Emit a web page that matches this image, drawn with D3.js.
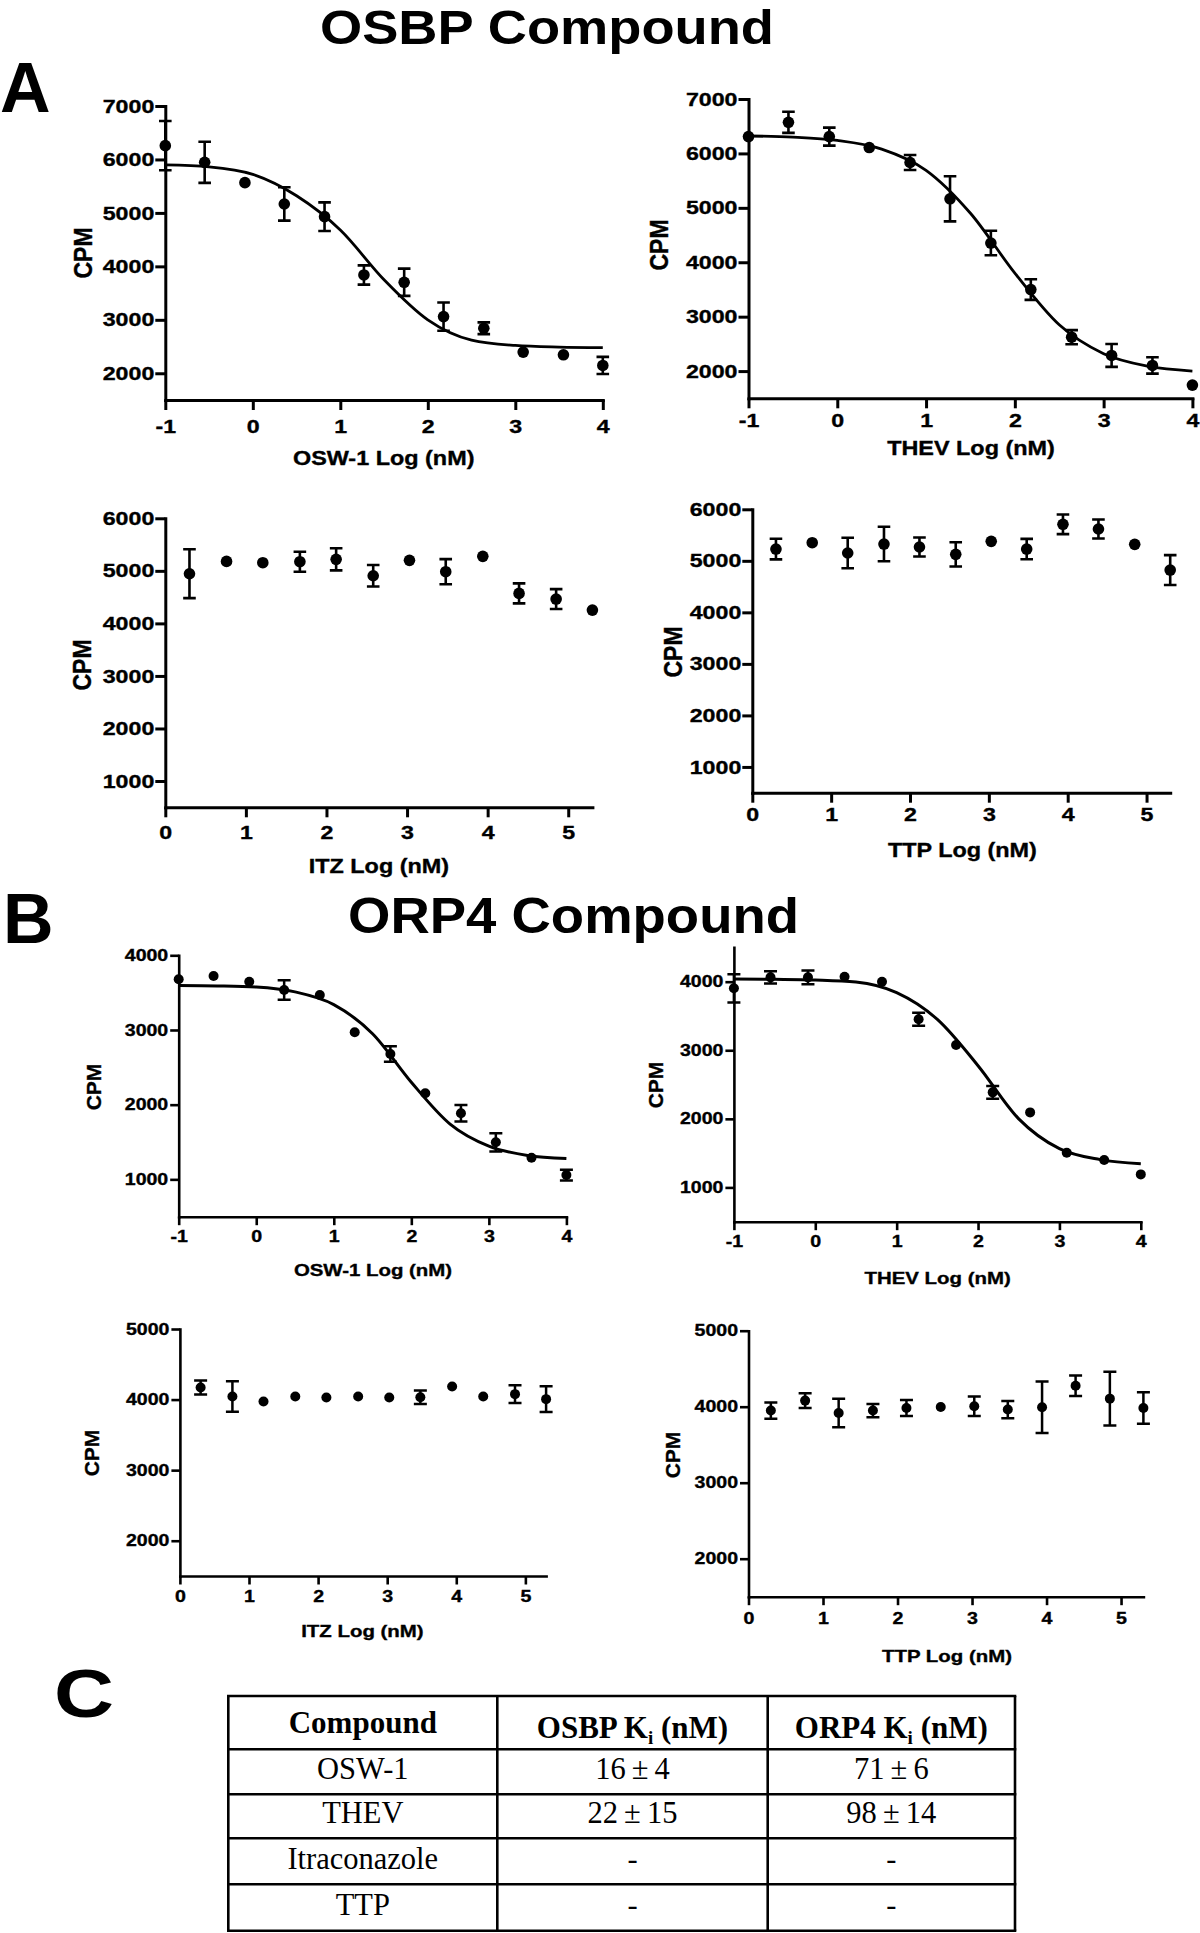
<!DOCTYPE html>
<html><head><meta charset="utf-8">
<script src="https://cdn.jsdelivr.net/npm/d3@7"></script>
<style>body{margin:0;background:#fff} svg{display:block}</style>
</head><body>
<svg id="fig" width="1200" height="1933"></svg>
<script>
// ---------------- DATA ----------------
const doseLogA = [-1, -0.55, -0.09, 0.36, 0.82, 1.27, 1.73, 2.18, 2.64, 3.09, 3.55, 4.0];
const doseLogB = [0.30, 0.76, 1.21, 1.67, 2.12, 2.58, 3.03, 3.48, 3.94, 4.39, 4.85, 5.30];
const fitX = [-1, -0.5, 0, 0.5, 1, 1.5, 2, 2.5, 3, 3.5, 4];

const osbpOsw1Mean = [6258, 5946, 5566, 5167, 4930, 3839, 3702, 3060, 2842, 2396, 2346, 2146];
const osbpOsw1Sem  = [460, 385, 0, 312, 268, 180, 255, 265, 110, 0, 0, 160];
const osbpOsw1Fit  = [5897, 5860, 5720, 5320, 4680, 3750, 3000, 2620, 2520, 2490, 2480];

const osbpThevMean = [6309, 6572, 6309, 6108, 5833, 5166, 4353, 3498, 2623, 2287, 2104, 1743];
const osbpThevSem  = [0, 195, 165, 0, 137, 415, 225, 190, 130, 210, 150, 0];
const osbpThevFit  = [6320, 6300, 6240, 6080, 5690, 4900, 3800, 2850, 2320, 2090, 2000];

const osbpItzMean = [4945, 5180, 5155, 5174, 5219, 4907, 5200, 4984, 5276, 4571, 4463, 4253];
const osbpItzSem  = [465, 0, 0, 190, 210, 205, 0, 240, 0, 190, 190, 0];

const osbpTtpMean = [5229, 5352, 5152, 5326, 5268, 5126, 5378, 5229, 5709, 5618, 5320, 4821];
const osbpTtpSem  = [200, 0, 295, 335, 185, 235, 0, 198, 190, 185, 0, 290];

const orp4Osw1Mean = [3679, 3723, 3647, 3536, 3469, 2969, 2679, 2152, 1884, 1496, 1290, 1058];
const orp4Osw1Sem  = [0, 0, 0, 130, 0, 0, 103, 0, 110, 123, 0, 72];
const orp4Osw1Fit  = [3595, 3590, 3575, 3510, 3340, 2950, 2300, 1740, 1445, 1320, 1280];

const orp4ThevMean = [3903, 4063, 4063, 4073, 4000, 3451, 3076, 2386, 2094, 1506, 1399, 1190];
const orp4ThevSem  = [205, 88, 100, 0, 0, 95, 0, 93, 0, 0, 0, 0];
const orp4ThevFit  = [4040, 4035, 4025, 3995, 3840, 3450, 2775, 2000, 1565, 1405, 1345];

const orp4ItzMean = [4171, 4044, 3973, 4044, 4030, 4044, 4030, 4034, 4185, 4044, 4077, 4006];
const orp4ItzSem  = [100, 215, 0, 0, 0, 0, 0, 95, 0, 0, 127, 182];

const orp4TtpMean = [3949, 4080, 3918, 3949, 3984, 3997, 4006, 3962, 3993, 4276, 4106, 3984];
const orp4TtpSem  = [107, 98, 187, 88, 105, 0, 127, 113, 338, 135, 355, 207];

const ticksLogA = [-1, 0, 1, 2, 3, 4];
const ticksLogB = [0, 1, 2, 3, 4, 5];
const ticksCpmA12 = [2000, 3000, 4000, 5000, 6000, 7000];
const ticksCpmA34 = [1000, 2000, 3000, 4000, 5000, 6000];
const ticksCpmB12 = [1000, 2000, 3000, 4000];
const ticksCpmB34 = [2000, 3000, 4000, 5000];

const xLabels = ["OSW-1 Log (nM)", "THEV Log (nM)", "ITZ Log (nM)", "TTP Log (nM)"];
const yLabel = "CPM";
const sectionTitles = ["OSBP Compound", "ORP4 Compound"];
const panelLetters = ["A", "B", "C"];

const tableHeader = [["Compound", "", ""], ["OSBP K", "i", " (nM)"], ["ORP4 K", "i", " (nM)"]];
const tableCompounds = ["OSW-1", "THEV", "Itraconazole", "TTP"];
const tableOsbpKi = ["16 ± 4", "22 ± 15", "-", "-"];
const tableOrp4Ki = ["71 ± 6", "98 ± 14", "-", "-"];

// ---------------- LAYOUT ----------------
const SANS = "'Liberation Sans', Arial, Helvetica, sans-serif";
const SERIF = "'Liberation Serif', 'Times New Roman', Times, serif";
const svg = d3.select("#fig");
svg.append("rect").attr("width", 1200).attr("height", 1933).attr("fill", "#fff");

const A = {tick: 10, axisW: 3, tickFont: 19, labFont: 20, labK: 1.17, cpmFont: 23, cpmK: 1.1, r: 5.8, cap: 6.3, errW: 2.6, lineW: 2.8};
const B = {tick: 8.5, axisW: 2.6, tickFont: 16, labFont: 17, labK: 1.2, cpmFont: 21, cpmK: 1.0, r: 5.0, cap: 6.5, errW: 2.5, lineW: 3};

const panels = [
  {st: A, xDomain: [-1, 4], xRange: [165.3, 602.8], yDomain: [1500, 7000], yRange: [400, 106], xPad: 10, yPad: 1,
   xl: [383.7, 465], yl: [83, 253], x: doseLogA, mean: osbpOsw1Mean, sem: osbpOsw1Sem, fit: osbpOsw1Fit,
   xTicks: ticksLogA, yTicks: ticksCpmA12, label: xLabels[0]},
  {st: A, xDomain: [-1, 4], xRange: [748.5, 1192.4], yDomain: [1500, 7000], yRange: [398.3, 99], xPad: 5, yPad: 1,
   xl: [971, 455], yl: [659, 245], x: doseLogA, mean: osbpThevMean, sem: osbpThevSem, fit: osbpThevFit,
   xTicks: ticksLogA, yTicks: ticksCpmA12, label: xLabels[1]},
  {st: A, xDomain: [0, 5.3], xRange: [165.3, 592.4], yDomain: [500, 6000], yRange: [807.3, 518.3], xPad: 8, yPad: 1,
   xl: [378.9, 873], yl: [82.3, 665], x: doseLogB, mean: osbpItzMean, sem: osbpItzSem, fit: null,
   xTicks: ticksLogB, yTicks: ticksCpmA34, label: xLabels[2]},
  {st: A, xDomain: [0, 5.3], xRange: [752.3, 1170.2], yDomain: [500, 6000], yRange: [792.7, 509.3], xPad: 5, yPad: 1,
   xl: [962.4, 857], yl: [672.7, 652], x: doseLogB, mean: osbpTtpMean, sem: osbpTtpSem, fit: null,
   xTicks: ticksLogB, yTicks: ticksCpmA34, label: xLabels[3]},
  {st: B, xDomain: [-1, 4], xRange: [178.7, 566.4], yDomain: [500, 4000], yRange: [1216.7, 955.3], xPad: 5, yPad: 2,
   xl: [373, 1276], yl: [93.8, 1087], x: doseLogA, mean: orp4Osw1Mean, sem: orp4Osw1Sem, fit: orp4Osw1Fit,
   xTicks: ticksLogA, yTicks: ticksCpmB12, label: xLabels[0]},
  {st: B, xDomain: [-1, 4], xRange: [733.9, 1140.8], yDomain: [500, 4500], yRange: [1221.7, 947.4], xPad: 5, yPad: 2,
   xl: [937.6, 1284], yl: [655.5, 1085], x: doseLogA, mean: orp4ThevMean, sem: orp4ThevSem, fit: orp4ThevFit,
   xTicks: ticksLogA, yTicks: ticksCpmB12, label: xLabels[1]},
  {st: B, xDomain: [0, 5.3], xRange: [179.9, 546.1], yDomain: [1500, 5000], yRange: [1576, 1329], xPad: 6, yPad: 2,
   xl: [362.4, 1637], yl: [91.8, 1453], x: doseLogB, mean: orp4ItzMean, sem: orp4ItzSem, fit: null,
   xTicks: ticksLogB, yTicks: ticksCpmB34, label: xLabels[2]},
  {st: B, xDomain: [0, 5.3], xRange: [748.5, 1143.4], yDomain: [1500, 5000], yRange: [1596.7, 1330.7], xPad: 7, yPad: 2,
   xl: [947, 1662], yl: [672.7, 1455], x: doseLogB, mean: orp4TtpMean, sem: orp4TtpSem, fit: null,
   xTicks: ticksLogB, yTicks: ticksCpmB34, label: xLabels[3]}
];

function drawPanel(p) {
  const s = p.st;
  const x = d3.scaleLinear().domain(p.xDomain).range(p.xRange);
  const y = d3.scaleLinear().domain(p.yDomain).range(p.yRange);
  const g = svg.append("g");
  const fmt = d => String(d);

  const gx = g.append("g").attr("transform", `translate(0,${p.yRange[0]})`)
    .call(d3.axisBottom(x).tickValues(p.xTicks).tickSize(s.tick).tickSizeOuter(0).tickPadding(p.xPad).tickFormat(fmt));
  const gy = g.append("g").attr("transform", `translate(${p.xRange[0]},0)`)
    .call(d3.axisLeft(y).tickValues(p.yTicks).tickSize(s.tick).tickSizeOuter(0).tickPadding(p.yPad).tickFormat(fmt));
  [gx, gy].forEach(a => {
    a.select(".domain").attr("stroke", "#000").attr("stroke-width", s.axisW).attr("stroke-linecap", "square");
    a.selectAll(".tick line").attr("stroke", "#000").attr("stroke-width", s.axisW);
    a.selectAll(".tick text").attr("fill", "#000").attr("font-family", SANS).attr("font-weight", "bold")
      .attr("font-size", s.tickFont).attr("stroke", "#000").attr("stroke-width", 0.35)
      .attr("data-k", 1.22).classed("stretch", true);
  });

  if (p.fit) {
    const line = d3.line().x((d, i) => x(fitX[i])).y(d => y(d)).curve(d3.curveMonotoneX);
    g.append("path").attr("d", line(p.fit)).attr("fill", "none").attr("stroke", "#000").attr("stroke-width", s.lineW);
  }

  const pts = p.mean.map((m, i) => ({x: p.x[i], m, e: p.sem[i]}));
  g.append("g").selectAll("path").data(pts.filter(d => d.e > 0)).join("path")
    .attr("d", d => {
      const cx = x(d.x), t = y(d.m + d.e), b = y(d.m - d.e);
      return `M${cx},${t}V${b}M${cx - s.cap},${t}H${cx + s.cap}M${cx - s.cap},${b}H${cx + s.cap}`;
    })
    .attr("fill", "none").attr("stroke", "#000").attr("stroke-width", s.errW);
  g.append("g").selectAll("circle").data(pts).join("circle")
    .attr("cx", d => x(d.x)).attr("cy", d => y(d.m)).attr("r", s.r).attr("fill", "#000");

  g.append("text").attr("x", p.xl[0]).attr("y", p.xl[1]).attr("text-anchor", "middle")
    .attr("font-family", SANS).attr("font-weight", "bold").attr("font-size", s.labFont)
    .attr("stroke", "#000").attr("stroke-width", 0.35)
    .attr("data-k", s.labK).classed("stretch", true).text(p.label);
  g.append("text").attr("transform", `translate(${p.yl[0]},${p.yl[1]}) rotate(-90) scale(1,${s.cpmK})`)
    .attr("text-anchor", "middle").attr("dy", "0.36em")
    .attr("font-family", SANS).attr("font-weight", "bold").attr("font-size", s.cpmFont)
    .attr("stroke", "#000").attr("stroke-width", 0.35).text(yLabel);
}
panels.forEach(drawPanel);

// Section titles and panel letters
const titlePos = [[547, 44, 454, 48], [573.5, 933, 451, 50]];
sectionTitles.forEach((t, i) => {
  svg.append("text").attr("x", titlePos[i][0]).attr("y", titlePos[i][1]).attr("text-anchor", "middle")
    .attr("font-family", SANS).attr("font-weight", "bold").attr("font-size", titlePos[i][3])
    .attr("textLength", titlePos[i][2]).attr("lengthAdjust", "spacingAndGlyphs").text(t);
});
const letterPos = [[0, 112, 70, null], [3, 943, 70, null], [54, 1717, 68, 60]];
panelLetters.forEach((t, i) => {
  const el = svg.append("text").attr("x", letterPos[i][0]).attr("y", letterPos[i][1])
    .attr("font-family", SANS).attr("font-weight", "bold").attr("font-size", letterPos[i][2]).text(t);
  if (letterPos[i][3]) el.attr("textLength", letterPos[i][3]).attr("lengthAdjust", "spacingAndGlyphs");
});

// Table (panel C)
const colX = [228.3, 497.3, 767.7, 1015];
const rowY = [1696, 1749.3, 1794.3, 1838.3, 1884.3, 1930.7];
const tg = svg.append("g");
rowY.forEach(yy => tg.append("line").attr("x1", colX[0] - 1.3).attr("x2", colX[3] + 1.3).attr("y1", yy).attr("y2", yy)
  .attr("stroke", "#000").attr("stroke-width", 2.6));
colX.forEach(xx => tg.append("line").attr("x1", xx).attr("x2", xx).attr("y1", rowY[0]).attr("y2", rowY[5])
  .attr("stroke", "#000").attr("stroke-width", 2.6));
const colC = [362.8, 632.5, 891.3];
tableHeader.forEach((h, i) => {
  const t = tg.append("text").attr("x", colC[i]).attr("y", i === 0 ? 1732.5 : 1737.5).attr("text-anchor", "middle")
    .attr("font-family", SERIF).attr("font-weight", "bold").attr("font-size", 31);
  t.append("tspan").text(h[0]);
  if (h[1]) {
    t.append("tspan").attr("font-size", 19).attr("dy", 6).text(h[1]);
    t.append("tspan").attr("dy", -6).text(h[2]);
  }
});
const bodyBase = [1779, 1823, 1869, 1915];
[tableCompounds, tableOsbpKi, tableOrp4Ki].forEach((col, ci) => {
  col.forEach((v, ri) => {
    tg.append("text").attr("x", colC[ci]).attr("y", bodyBase[ri]).attr("text-anchor", "middle")
      .attr("font-family", SERIF).attr("font-size", 30.5).text(v.replace(" ± ", "\u2009±\u2009"));
  });
});

// Horizontal widening of the figure's sans-serif labels (reference text is widened)
svg.selectAll("text.stretch").each(function () {
  const k = +this.getAttribute("data-k") || 1.2;
  const L = this.getComputedTextLength();
  this.setAttribute("textLength", (L * k).toFixed(1));
  this.setAttribute("lengthAdjust", "spacingAndGlyphs");
});
</script>
</body></html>
